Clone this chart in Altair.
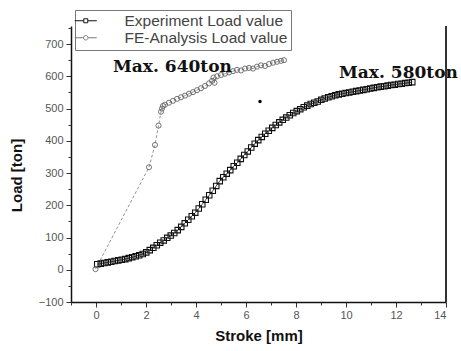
import altair as alt
import pandas as pd

EXP = "Experiment Load value"
FE = "FE-Analysis Load value"

exp_x = [0.05, 0.19, 0.33, 0.47, 0.61, 0.75, 0.89, 1.03, 1.17, 1.31, 1.45, 1.59, 1.73, 1.87,
         2.01, 2.15, 2.29, 2.43, 2.57, 2.71, 2.85, 2.99, 3.13, 3.27, 3.41, 3.55, 3.69, 3.83,
         3.97, 4.11, 4.25, 4.39, 4.53, 4.67, 4.81, 4.95, 5.09, 5.23, 5.37, 5.51, 5.65, 5.79,
         5.93, 6.07, 6.21, 6.35, 6.49, 6.63, 6.77, 6.91, 7.05, 7.19, 7.33, 7.47, 7.61, 7.75,
         7.89, 8.03, 8.17, 8.31, 8.45, 8.59, 8.73, 8.87, 9.01, 9.15, 9.29, 9.43, 9.57, 9.71,
         9.85, 9.99, 10.13, 10.27, 10.41, 10.55, 10.69, 10.83, 10.97, 11.11, 11.25, 11.39,
         11.53, 11.67, 11.81, 11.95, 12.09, 12.23, 12.37, 12.51, 12.65]
exp_y = [17, 19, 21, 23, 25, 27, 29, 31, 33, 36, 39, 42, 45, 49,
         54, 61, 68, 76, 84, 91, 99, 106, 114, 123, 133, 144, 155, 166,
         177, 190, 203, 217, 231, 245, 260, 275, 287, 298, 309, 321, 332, 344,
         356, 367, 379, 391, 402, 412, 422, 431, 440, 449, 457, 465, 472, 479,
         486, 492, 498, 504, 509, 514, 518, 522, 527, 531, 535, 538, 541, 544,
         546, 548, 550, 552, 554, 556, 558, 560, 562, 564, 566, 568,
         569, 571, 573, 574, 576, 577, 579, 580, 582]

fe_x = [-0.02, 2.12, 2.36, 2.50, 2.60, 2.64, 2.68, 2.76, 2.92, 3.08, 3.24, 3.40, 3.56, 3.72,
        3.88, 4.04, 4.20, 4.36, 4.52, 4.64, 4.70, 4.74, 4.84, 5.00, 5.16, 5.32, 5.48, 5.64,
        5.80, 5.96, 6.12, 6.28, 6.44, 6.60, 6.76, 6.92, 7.08, 7.24, 7.40, 7.52]
fe_y = [2, 318, 387, 447, 490, 500, 508, 512, 518, 524, 530, 535, 540, 546,
        551, 557, 563, 570, 578, 586, 596, 580, 600, 604, 608, 612, 616, 620,
        618, 624, 626, 624, 630, 634, 632, 638, 642, 645, 648, 650]

stray_x = [6.56]
stray_y = [522]

note_text = ["Max. 640ton", "Max. 580ton"]
note_x = [0.68, 9.72]
note_y = [629, 610]

x_ticks = [0, 2, 4, 6, 8, 10, 12, 14]
x_minor = [-1, 1, 3, 5, 7, 9, 11, 13]
y_ticks = [-100, 0, 100, 200, 300, 400, 500, 600, 700]
y_minor = [-50, 50, 150, 250, 350, 450, 550, 650, 750]

W, H = 375, 276

exp_df = pd.DataFrame({"stroke": exp_x, "load": exp_y})
fe_df = pd.DataFrame({"stroke": fe_x, "load": fe_y})
stray_df = pd.DataFrame({"stroke": stray_x, "load": stray_y})
note_df = pd.DataFrame({"stroke": note_x, "load": note_y, "text": note_text})
legend_df = pd.DataFrame({"series": [EXP, FE]})

xs = alt.Scale(domain=[-1, 14], nice=False, zero=False)
ys = alt.Scale(domain=[-100, 756], nice=False, zero=False)

FONT = "Liberation Sans"

x_axis = alt.Axis(values=x_ticks, title="Stroke [mm]", grid=False, orient="bottom",
                  domainColor="#111", domainWidth=1.5, tickColor="#333", tickSize=5,
                  labelFont=FONT, labelFontSize=11, labelColor="#555", labelPadding=2,
                  titleFont=FONT, titleFontSize=15, titleFontWeight="bold",
                  titleColor="#111", titlePadding=8)
y_axis = alt.Axis(values=y_ticks, title="Load [ton]", grid=False, orient="left",
                  domainColor="#111", domainWidth=1.5, tickColor="#333", tickSize=5,
                  labelFont=FONT, labelFontSize=11, labelColor="#555", labelPadding=3,
                  titleFont=FONT, titleFontSize=15, titleFontWeight="bold",
                  titleColor="#111", titlePadding=14, titleY=149)

P_EXP = "M-2.2,0H-0.45M0.45,0H2.2M-0.4,-0.4H0.4V0.4H-0.4Z"
P_FE = "M-2.2,0H-0.5M0.5,0H2.2M-0.45,0A0.45,0.45 0 1,1 0.45,0A0.45,0.45 0 1,1 -0.45,0Z"

legend = alt.Legend(
    orient="none", legendX=4, legendY=-16, title=None, direction="vertical",
    fillColor="white", strokeColor="#777", padding=3, rowPadding=0,
    labelFont=FONT, labelFontSize=15.5, labelColor="#444", labelOffset=31, labelLimit=400,
    symbolSize=100, symbolStrokeWidth=1, symbolOpacity=1, symbolFillColor="white",
)


def xx(axis=None):
    return alt.X("stroke:Q", scale=xs, axis=axis)


def yy(axis=None):
    return alt.Y("load:Q", scale=ys, axis=axis)


exp_line = alt.Chart(exp_df).mark_line(color="#111", strokeWidth=0.8).encode(
    x=xx(x_axis), y=yy(y_axis))
fe_line = alt.Chart(fe_df).mark_line(color="#777", strokeWidth=0.8, strokeDash=[3, 2]).encode(
    x=xx(), y=yy())

exp_pts = alt.Chart(exp_df).mark_point(shape="square", filled=False, size=30, strokeWidth=1.1,
                                       color="#111", opacity=1).encode(x=xx(), y=yy())
fe_pts = alt.Chart(fe_df).mark_point(shape="circle", filled=False, size=26, strokeWidth=0.9,
                                     color="#666", opacity=1).encode(x=xx(), y=yy())

legend_layer = alt.Chart(legend_df).mark_point(filled=False, opacity=1).encode(
    x=alt.value(-2000), y=alt.value(-2000),
    shape=alt.Shape("series:N", scale=alt.Scale(domain=[EXP, FE], range=[P_EXP, P_FE]),
                    legend=legend),
    stroke=alt.Stroke("series:N", scale=alt.Scale(domain=[EXP, FE], range=["#111", "#777"]),
                      legend=None),
)

stray = alt.Chart(stray_df).mark_point(filled=True, size=12, color="#000", opacity=1).encode(
    x=xx(), y=yy())

notes = alt.Chart(note_df).mark_text(align="left", baseline="middle", font="DejaVu Serif",
                                     fontWeight="bold", fontSize=17, color="#111").encode(
    x=xx(), y=yy(), text="text:N")

right_border = alt.Chart(exp_df).mark_rule(color="#333", strokeWidth=1).encode(
    x=alt.value(W), y=alt.value(0), y2=alt.value(H))

minor = alt.Chart(exp_df).mark_point(opacity=0).encode(
    x=xx(alt.Axis(values=x_minor, labels=False, tickSize=3, domain=False, title=None,
                  grid=False, orient="bottom", tickColor="#333")),
    y=yy(alt.Axis(values=y_minor, labels=False, tickSize=3, domain=False, title=None,
                  grid=False, orient="left", tickColor="#333")),
)

chart = alt.layer(exp_line, fe_line, exp_pts, fe_pts, stray, notes, right_border, minor,
                  legend_layer).resolve_axis(
    x="independent", y="independent"
).properties(
    width=W, height=H,
    autosize=alt.AutoSizeParams(type="none"),
    padding={"left": 71, "top": 26, "right": 15, "bottom": 49},
    background="white",
).configure_view(stroke=None)

chart.save("out.html", embed_options={"renderer": "svg", "actions": False})
